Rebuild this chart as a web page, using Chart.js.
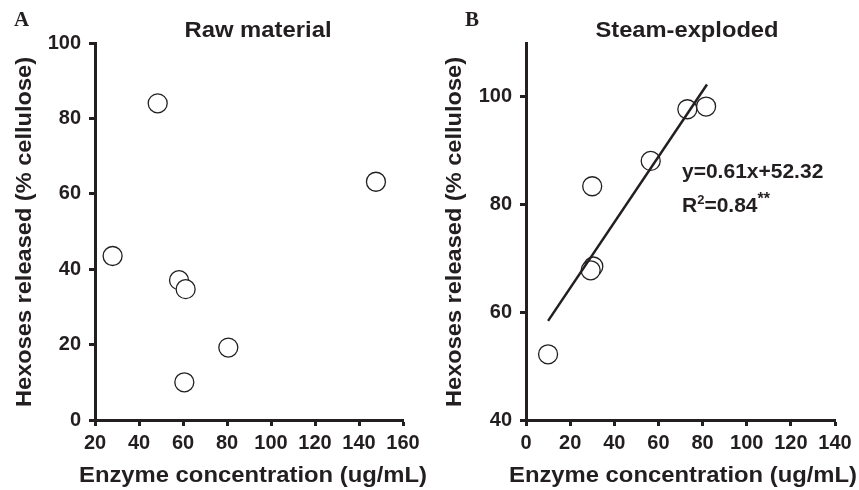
<!DOCTYPE html>
<html><head><meta charset="utf-8">
<script src="https://cdn.jsdelivr.net/npm/chart.js@4/dist/chart.umd.min.js"></script>
<style>
html,body{margin:0;padding:0;background:#fff;}
#wrap{position:relative;width:859px;height:490px;}
#ca{position:absolute;left:0;top:0;}
#cb{position:absolute;left:430px;top:0;}
</style></head><body>
<div id="wrap"><canvas id="ca" width="430" height="490"></canvas><canvas id="cb" width="429" height="490"></canvas></div>
<script>
// Panel A: Raw material
const rawX = [48.5, 147.7, 28.0, 58.2, 61.2, 80.6, 60.6];
const rawY = [84.0, 63.2, 43.5, 37.1, 34.7, 19.2, 10.0];
// Panel B: Steam-exploded
const steamX = [73.1, 81.6, 56.5, 30.0, 30.5, 29.3, 10.0];
const steamY = [97.7, 98.2, 88.1, 83.4, 68.5, 67.8, 52.2];
// Regression line endpoints (y=0.61x+52.32)
const fitX = [10, 82];
const fitY = [58.4, 102.3];
const titles = ["Raw material", "Steam-exploded"];
const panelLetters = ["A", "B"];
const xTitle = "Enzyme concentration (ug/mL)";
const yTitle = "Hexoses released (% cellulose)";
const eqText = "y=0.61x+52.32";
const r2Text = ["R", "2", "=0.84", "**"];

const INK = '#231f20';
const FONT = "'Liberation Sans', Arial, sans-serif";

function pts(xs, ys){ return xs.map((x,i)=>({x:x, y:ys[i]})); }

// draw text horizontally stretched to a target width (reference font is wider than Arial)
function stretchedText(ctx, text, cx, baseY, fontPx, targetW, rot){
  ctx.save();
  ctx.font = "bold " + fontPx + "px " + FONT;
  const w = ctx.measureText(text).width;
  const sx = targetW / w;
  ctx.translate(cx, baseY);
  if (rot) ctx.rotate(rot);
  ctx.scale(sx, 1);
  ctx.textAlign = 'center';
  ctx.textBaseline = 'alphabetic';
  ctx.fillStyle = INK;
  ctx.fillText(text, 0, 0);
  ctx.restore();
}

function makeScales(xmin, xmax, ymin, ymax, yAxisWidth){
  const common = {
    border:{display:true, color:INK, width:3},
    grid:{display:true, drawOnChartArea:false, drawTicks:true, tickLength:6, tickWidth:3, tickColor:INK},
  };
  return {
    x:{type:'linear', min:xmin, max:xmax, ...common,
      afterFit:(s)=>{ s.height = 70; },
      ticks:{stepSize:20, color:INK, padding:5, maxRotation:0, font:{family:FONT, size:20, weight:'bold'}},
      title:{display:false}
    },
    y:{type:'linear', min:ymin, max:ymax, ...common,
      afterFit:(s)=>{ s.width = yAxisWidth; },
      ticks:{stepSize:20, includeBounds:false, color:INK, padding:8, font:{family:FONT, size:20, weight:'bold'}},
      title:{display:false}
    }
  };
}

function textPlugin(idx, titleCx, titleW){
  return {
    id:'txt'+idx,
    afterDraw(chart){
      const ctx = chart.ctx;
      ctx.save();
      ctx.fillStyle = INK;
      ctx.textBaseline = 'alphabetic';
      ctx.textAlign = 'left';
      ctx.font = "bold 21px 'Liberation Serif', serif";
      ctx.fillText(panelLetters[idx], idx===0 ? 14 : 35, 26);
      ctx.restore();
      // panel title
      stretchedText(ctx, titles[idx], titleCx, 37, 22, titleW, 0);
      // axis titles
      stretchedText(ctx, xTitle, 253, 482, 22, 348, 0);
      stretchedText(ctx, yTitle, 31, 232, 22, 350, -Math.PI/2);
    }
  };
}

const annPlugin = {
  id:'ann',
  afterDraw(chart){
    const ctx = chart.ctx;
    ctx.save();
    ctx.fillStyle = INK;
    ctx.textBaseline = 'alphabetic';
    ctx.textAlign = 'left';
    let x0 = 252;
    ctx.font = "bold 21px " + FONT;
    ctx.fillText(eqText, x0, 178);
    let x = x0;
    const yb = 212;
    ctx.fillText(r2Text[0], x, yb); x += ctx.measureText(r2Text[0]).width;
    ctx.font = "bold 13px " + FONT;
    ctx.fillText(r2Text[1], x, yb-8); x += ctx.measureText(r2Text[1]).width;
    ctx.font = "bold 21px " + FONT;
    ctx.fillText(r2Text[2], x, yb); x += ctx.measureText(r2Text[2]).width;
    ctx.font = "bold 16px " + FONT;
    ctx.fillText(r2Text[3], x, yb-8);
    ctx.restore();
  }
};

const pointStyle = {pointRadius:9.5, pointHoverRadius:9.5, pointBackgroundColor:'#fff', pointBorderColor:INK, pointBorderWidth:1.3, showLine:false};

new Chart(document.getElementById('ca'), {
  type:'scatter',
  data:{datasets:[{data:pts(rawX, rawY), ...pointStyle}]},
  options:{
    responsive:false, animation:false, events:[],
    layout:{padding:{top:43, right:27, bottom:0, left:0}},
    plugins:{legend:{display:false}, tooltip:{enabled:false}, title:{display:false}},
    scales:makeScales(20,160,0,100,95)
  },
  plugins:[textPlugin(0, 258, 147)]
});

new Chart(document.getElementById('cb'), {
  type:'scatter',
  data:{datasets:[
    {type:'line', data:pts(fitX, fitY), borderColor:INK, borderWidth:2.5, pointRadius:0, showLine:true, fill:false},
    {data:pts(steamX, steamY), ...pointStyle}
  ]},
  options:{
    responsive:false, animation:false, events:[],
    layout:{padding:{top:43, right:24, bottom:0, left:0}},
    plugins:{legend:{display:false}, tooltip:{enabled:false}, title:{display:false}},
    scales:makeScales(0,140,40,110,96)
  },
  plugins:[textPlugin(1, 257, 183), annPlugin]
});
</script>
</body></html>
